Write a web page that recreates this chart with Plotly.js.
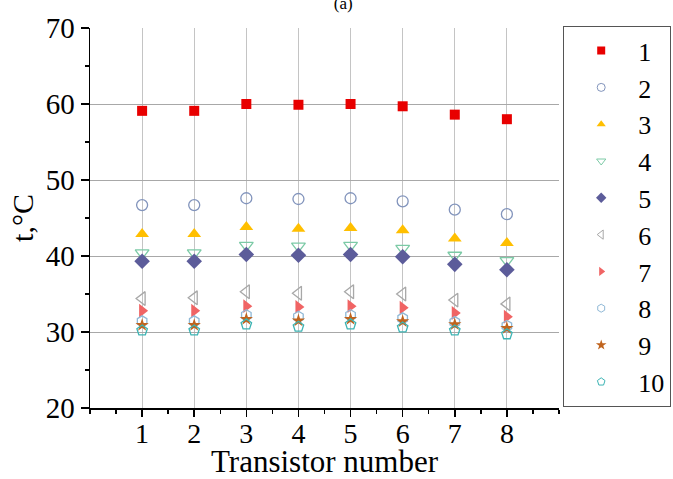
<!DOCTYPE html>
<html>
<head>
<meta charset="utf-8">
<script src="https://cdn.plot.ly/plotly-3.0.1.min.js"></script>
<style>html,body{margin:0;padding:0;background:#fff;}#chart{width:673px;height:479px;}</style>
</head>
<body>
<div id="chart"></div>
<script>
const transistors = [1, 2, 3, 4, 5, 6, 7, 8];
const seriesNames = ["1", "2", "3", "4", "5", "6", "7", "8", "9", "10"];
const s1  = [59.1, 59.1, 60.0, 59.9, 60.0, 59.7, 58.6, 58.0];
const s2  = [46.7, 46.7, 47.6, 47.5, 47.6, 47.2, 46.1, 45.5];
const s3  = [42.9, 42.9, 43.8, 43.6, 43.7, 43.4, 42.3, 41.7];
const s4  = [40.4, 40.4, 41.4, 41.3, 41.4, 41.0, 40.1, 39.4];
const s5  = [39.3, 39.3, 40.2, 40.1, 40.2, 39.9, 38.9, 38.2];
const s6  = [34.4, 34.5, 35.3, 35.1, 35.3, 35.0, 34.2, 33.7];
const s7  = [32.8, 32.8, 33.4, 33.3, 33.4, 33.2, 32.5, 32.0];
const s8  = [31.4, 31.4, 32.2, 32.0, 32.2, 31.8, 31.3, 30.8];
const s9  = [30.9, 30.9, 31.7, 31.5, 31.7, 31.4, 31.0, 30.5];
const s10 = [30.2, 30.2, 31.0, 30.7, 31.0, 30.6, 30.2, 29.7];
const allSeries = [s1, s2, s3, s4, s5, s6, s7, s8, s9, s10];
const xTickVals = [1, 2, 3, 4, 5, 6, 7, 8];
const yTickVals = [20, 30, 40, 50, 60, 70];

const styles = [
  {symbol: "square", color: "#e80000", size: 10, open: false},
  {symbol: "circle-open", color: "#8294bc", size: 11, open: true},
  {symbol: "triangle-up", color: "#ffbf00", size: 12, open: false},
  {symbol: "triangle-down-open", color: "#7ccaa6", size: 12, open: true},
  {symbol: "diamond", color: "#5c5c9a", size: 12, open: false},
  {symbol: "triangle-left-open", color: "#a8a8a8", size: 12, open: true},
  {symbol: "triangle-right", color: "#f06464", size: 12, open: false},
  {symbol: "hexagon-open", color: "#8fb8d6", size: 11, open: true},
  {symbol: "star", color: "#c0641e", size: 10, open: false},
  {symbol: "pentagon-open", color: "#3cb4b4", size: 11, open: true}
];

const traces = [];
allSeries.forEach((ys, i) => {
  const st = styles[i];
  traces.push({
    x: transistors, y: ys, type: "scatter", mode: "markers", name: seriesNames[i],
    showlegend: false, cliponaxis: false,
    marker: {symbol: st.symbol, color: st.color, size: st.size, line: {color: st.color, width: st.open ? 1.3 : 0}}
  });
});
allSeries.forEach((ys, i) => {
  const st = styles[i];
  traces.push({
    x: [null], y: [null], type: "scatter", mode: "markers", name: seriesNames[i],
    showlegend: true,
    marker: {symbol: st.symbol, color: st.color, size: 8, line: {color: st.color, width: st.open ? 1 : 0}}
  });
});

const FAM = "Liberation Serif";
function f(size) { return {family: FAM, size: size, color: "#000"}; }

const layout = {
  width: 673, height: 479,
  margin: {l: 90, r: 114, t: 28, b: 71, autoexpand: false},
  paper_bgcolor: "#fff", plot_bgcolor: "#fff",
  font: f(28),
  title: {text: "(a)", font: f(17), x: 0.51, xanchor: "center", y: 0.993, yanchor: "middle", yref: "container"},
  xaxis: {
    range: [0, 9], tickvals: xTickVals, ticktext: xTickVals.map(String),
    ticks: "outside", ticklen: 7, tickwidth: 1.5, tickcolor: "#000",
    ticklabelstandoff: -7,
    showline: true, linecolor: "#000", linewidth: 1.5,
    showgrid: true, gridcolor: "#c4c4c4", gridwidth: 1.2, zeroline: false,
    minor: {ticks: "outside", ticklen: 4, tickwidth: 1.5, tickcolor: "#000", dtick: 0.5, tick0: 0.5, showgrid: false},
    tickfont: f(28),
    title: {text: "Transistor number", font: f(31), standoff: 6}
  },
  yaxis: {
    range: [20, 70], tickvals: yTickVals, ticktext: yTickVals.map(String),
    ticks: "outside", ticklen: 8, tickwidth: 1.5, tickcolor: "#000",
    showline: true, linecolor: "#000", linewidth: 1.5,
    showgrid: true, gridcolor: "#a8a8a8", gridwidth: 1, zeroline: false,
    minor: {ticks: "outside", ticklen: 4, tickwidth: 1.5, tickcolor: "#000", dtick: 5, tick0: 25, showgrid: false},
    tickfont: f(29),
    title: {text: "t,°C", font: f(30), standoff: 3}
  },
  xaxis2: {
    overlaying: "x", side: "top", range: [0, 9], tickvals: xTickVals, showticklabels: false,
    ticks: "inside", ticklen: 7, tickwidth: 1.5, tickcolor: "#000",
    showline: true, linecolor: "#000", linewidth: 1.5, showgrid: false, zeroline: false,
    minor: {ticks: "inside", ticklen: 4, tickwidth: 1.5, tickcolor: "#000", dtick: 0.5, tick0: 0.5, showgrid: false}
  },
  yaxis2: {
    overlaying: "y", side: "right", range: [20, 70], tickvals: yTickVals, showticklabels: false,
    ticks: "inside", ticklen: 8, tickwidth: 1.5, tickcolor: "#000",
    showline: true, linecolor: "#000", linewidth: 1.5, showgrid: false, zeroline: false,
    minor: {ticks: "inside", ticklen: 4, tickwidth: 1.5, tickcolor: "#000", dtick: 5, tick0: 25, showgrid: false}
  },
  legend: {
    x: 563 / 673, xref: "container", xanchor: "left",
    y: 1 - 26 / 479, yref: "container", yanchor: "top",
    bordercolor: "#555", borderwidth: 1.2, bgcolor: "#fff",
    font: f(26), maxheight: 460,
    itemwidth: 64, tracegroupgap: 0
  },
  showlegend: true
};

Plotly.newPlot("chart", traces, layout, {displayModeBar: false, staticPlot: true});
</script>
</body>
</html>
